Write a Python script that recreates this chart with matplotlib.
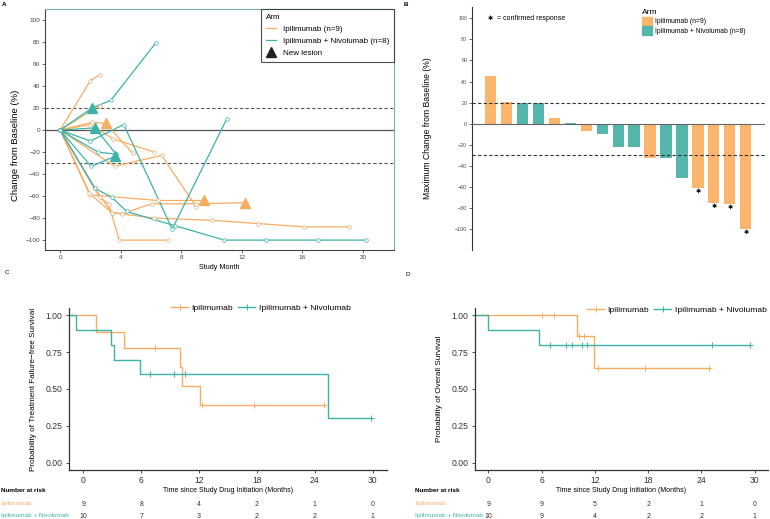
import matplotlib
matplotlib.use("Agg")
import matplotlib.pyplot as plt
from matplotlib.lines import Line2D
from matplotlib.patches import Patch
import matplotlib.transforms as mtrans

plt.rcParams['font.family'] = ['Liberation Sans', 'DejaVu Sans']

W, H = 770, 519
ORANGE = '#F7AE63'
TEAL = '#3DB3A8'
BAR_OR = '#FCB56C'
BAR_TE = '#55B7AC'

# ---------------- Panel A data (spider plot) ----------------
ipi_months = [
    [0, 2.0, 2.6],
    [0, 2.6],
    [0, 2.1, 3.0, 4.8],
    [0, 2.0, 3.5, 6.2],
    [0, 3.6, 6.7, 9.0],
    [0, 2.6, 3.2, 3.9, 7.1],
    [0, 2.0, 6.45, 9.5],
    [0, 2.3, 3.4, 4.1, 6.05, 9.0, 12.2],
    [0, 1.9, 3.4, 6.2, 10.0, 13.1, 16.1, 19.1],
]
ipi_values = [
    [0, 45, 50],
    [0, 22],
    [0, 7, 6, -21],
    [0, 5, -8, -20],
    [0, -33, -23, -70],
    [0, -61, -67, -100, -100],
    [0, -59, -64, -64],
    [0, -53, -75, -76, -67, -67, -66],
    [0, -57, -75, -80, -82, -85, -88, -88],
]
ipi_newlesion = [None, None, 2, None, None, None, 3, 6, None]

combo_months = [
    [0, 2.1, 3.35, 6.3],
    [0, 2.3, 3.7],
    [0, 2.0, 4.2, 7.4, 11.0],
    [0, 2.05, 3.6],
    [0, 2.5, 3.7],
    [0, 2.3, 3.4, 4.4, 7.6, 10.85, 13.6, 17.0, 20.2],
]
combo_values = [
    [0, 20, 27, 79],
    [0, 2, -22],
    [0, -10, 5, -90, 10],
    [0, -33, -24],
    [0, -20, -22],
    [0, -53, -61, -74, -87, -100, -100, -100, -100],
]
combo_newlesion = [1, 1, None, 2, None, None]

# ---------------- Panel B data (waterfall) ----------------
wf_values = [45, 21, 20, 20, 5, 1, -7, -10, -22, -22, -33, -33, -52, -61, -75, -76, -100]
wf_arm = ['I', 'I', 'C', 'C', 'I', 'C', 'I', 'C', 'C', 'C', 'I', 'C', 'C', 'I', 'I', 'I', 'I']
wf_confirmed = [False] * 13 + [True, True, True, True]

# ---------------- Panel C data (TFFS) ----------------
c_ipi_t = [-1.5, 1.3, 4.2, 10.0, 10.2, 12.1, 25.0]
c_ipi_s = [1.0, 0.889, 0.778, 0.648, 0.519, 0.389, 0.389]
c_ipi_cens_t = [7.4, 12.3, 17.7, 25.0]
c_combo_t = [-1.5, -0.75, 2.87, 3.18, 5.84, 25.4, 29.8]
c_combo_s = [1.0, 0.9, 0.8, 0.7, 0.6, 0.3, 0.3]
c_combo_cens_t = [6.9, 9.4, 10.5, 29.8]

# ---------------- Panel D data (OS) ----------------
d_ipi_t = [-1.5, 9.94, 11.9, 24.9]
d_ipi_s = [1.0, 0.857, 0.643, 0.643]
d_ipi_cens_t = [6.0, 7.4, 10.2, 10.8, 12.3, 17.7, 24.9]
d_combo_t = [-1.5, 0.0, 5.7, 29.5]
d_combo_s = [1.0, 0.9, 0.8, 0.8]
d_combo_cens_t = [6.9, 8.8, 9.4, 10.6, 11.1, 25.2, 29.5]

risk_times = [0, 6, 12, 18, 24, 30]
c_risk_ipi = [9, 8, 4, 2, 1, 0]
c_risk_combo = [10, 7, 3, 2, 2, 1]
d_risk_ipi = [9, 9, 5, 2, 1, 0]
d_risk_combo = [10, 9, 4, 2, 2, 1]

fig = plt.figure(figsize=(W / 100, H / 100), dpi=100)


def px_axes(x0, y0, x1, y1):
    return fig.add_axes([x0 / W, 1 - y1 / H, (x1 - x0) / W, (y1 - y0) / H])


def fx(x):
    return x / W


def fy(y):
    return 1 - y / H


# ======================= Panel A =======================
axA = px_axes(45, 9, 394, 250)
axA.set_xlim(-1.0, 22.05)
axA.set_ylim(-109, 110)
axA.axhline(0, color='#555555', lw=0.9, zorder=1)
for yv in (20, -30):
    axA.axhline(yv, color='#555555', lw=0.8, ls=(0, (3, 2)), zorder=1)

for m, v, nl in zip(ipi_months, ipi_values, ipi_newlesion):
    axA.plot(m, v, color=ORANGE, lw=0.9, zorder=2)
    mm = [a for i, a in enumerate(m) if i != nl]
    vv = [b for i, b in enumerate(v) if i != nl]
    axA.plot(mm, vv, ls='none', marker='o', ms=2.6, mfc='white', mec='#D9B47F', mew=0.5, zorder=3)
    if nl is not None:
        axA.plot(m[nl], v[nl], ls='none', marker='^', ms=7, color=ORANGE, zorder=4)
for m, v, nl in zip(combo_months, combo_values, combo_newlesion):
    axA.plot(m, v, color=TEAL, lw=0.9, zorder=2)
    mm = [a for i, a in enumerate(m) if i != nl]
    vv = [b for i, b in enumerate(v) if i != nl]
    axA.plot(mm, vv, ls='none', marker='o', ms=2.6, mfc='white', mec=TEAL, mew=0.5, zorder=3)
    if nl is not None:
        axA.plot(m[nl], v[nl], ls='none', marker='^', ms=7, color=TEAL, zorder=4)

axA.set_xticks([0, 4, 8, 12, 16, 20])
axA.set_yticks(list(range(-100, 101, 20)))
axA.tick_params(labelsize=4.6, length=2, width=0.5, colors='#333333', labelcolor='#444444', pad=1.5)
for s in ('left', 'bottom'):
    axA.spines[s].set_color('#444444')
    axA.spines[s].set_linewidth(0.8)
for s in ('top', 'right'):
    axA.spines[s].set_color('#79AEB2')
    axA.spines[s].set_linewidth(0.8)
axA.set_xlabel('Study Month', fontsize=5.2, labelpad=3)
axA.set_ylabel('Change from Baseline (%)', fontsize=6.8)
axA.yaxis.set_label_coords((20 - 45) / 349, (250 - 145) / 241)

legA_handles = [
    Line2D([], [], color=ORANGE, lw=0.9),
    Line2D([], [], color=TEAL, lw=0.9),
    Line2D([], [], ls='none', marker='^', ms=7, color='#222222'),
]
legA = axA.legend(legA_handles, ['Ipilimumab (n=9)', 'Ipilimumab + Nivolumab (n=8)', 'New lesion'],
                  title='Arm', loc='upper right', bbox_to_anchor=(1.0, 1.0), borderaxespad=0,
                  fontsize=5.8, title_fontsize=5.8, frameon=True, fancybox=False,
                  edgecolor='#222222', handlelength=1.3, handletextpad=0.8, labelspacing=0.55,
                  borderpad=0.6)
legA.get_frame().set_linewidth(0.8)
legA._legend_box.align = 'left'

fig.text(fx(2), fy(4), 'A', fontsize=4.5, fontweight='bold', va='center', ha='left')

# ======================= Panel B =======================
axB = px_axes(472, 7, 765, 250)
xs = list(range(len(wf_values)))
cols = [BAR_OR if a == 'I' else BAR_TE for a in wf_arm]
axB.bar(xs, wf_values, width=0.7, color=cols, zorder=2)
axB.set_xlim(-1.15, 17.2)
axB.set_ylim(-120, 110.8)
axB.axhline(0, color='#666666', lw=0.8, zorder=3)
for yv in (20, -30):
    axB.axhline(yv, color='#333333', lw=0.8, ls=(0, (3, 2)), zorder=3)
for x, v, c in zip(xs, wf_values, wf_confirmed):
    if c:
        axB.text(x, v - 3.5, '✱', fontsize=4.5, ha='center', va='center', family=['DejaVu Sans'])
axB.set_xticks([])
axB.set_yticks(list(range(-100, 101, 20)))
axB.tick_params(labelsize=3.8, length=2, width=0.5, colors='#333333', labelcolor='#444444', pad=1.5)
for s in ('top', 'right', 'bottom'):
    axB.spines[s].set_visible(False)
axB.spines['left'].set_color('#333333')
axB.spines['left'].set_linewidth(0.8)
axB.set_ylabel('Maximum Change from Baseline (%)', fontsize=6.2)
axB.yaxis.set_label_coords((432 - 472) / 293, (250 - 128) / 243)
axB.text(0.0, 100, '✱', fontsize=4.5, ha='center', va='center', family=['DejaVu Sans'])
axB.text(0.4, 100, '= confirmed response', fontsize=5, ha='left', va='center')

legB = axB.legend([Patch(color=BAR_OR), Patch(color=BAR_TE)],
                  ['Ipilimumab (n=9)', 'Ipilimumab + Nivolumab (n=8)'],
                  title='Arm', loc='upper left', bbox_to_anchor=((640 - 472) / 293, 1.0),
                  borderaxespad=0.1, frameon=False, fontsize=4.9, title_fontsize=6,
                  handlelength=1.5, handleheight=1.6, handletextpad=0.4, labelspacing=0.1,
                  borderpad=0.2)
legB._legend_box.align = 'left'

fig.text(fx(404), fy(4), 'B', fontsize=4.5, fontweight='bold', va='center', ha='left')


# ======================= KM helper =======================
def km_panel(ax, ipi_t, ipi_s, ipi_c, combo_t, combo_s, combo_c, ylabel, leg_x, leg_y):
    for t, s, cens, col in ((ipi_t, ipi_s, ipi_c, ORANGE), (combo_t, combo_s, combo_c, TEAL)):
        ax.step(t, s, where='post', color=col, lw=1.0, zorder=2)
        cs = []
        for ct in cens:
            val = s[0]
            for tt, ss in zip(t, s):
                if tt <= ct:
                    val = ss
            cs.append(val)
        ax.plot(cens, cs, ls='none', marker='+', ms=4, mew=0.7, color=col, zorder=3)
    ax.set_xlim(-1.5, 31.5)
    ax.set_ylim(-0.05, 1.05)
    ax.set_xticks([0, 6, 12, 18, 24, 30])
    ax.set_yticks([0, 0.25, 0.5, 0.75, 1.0])
    ax.set_yticklabels(['0.00', '0.25', '0.50', '0.75', '1.00'])
    ax.tick_params(labelsize=6.2, length=2.5, width=0.6, colors='#333333', labelcolor='#333333', pad=2)
    for s in ('top', 'right'):
        ax.spines[s].set_visible(False)
    for s in ('left', 'bottom'):
        ax.spines[s].set_color('#333333')
        ax.spines[s].set_linewidth(0.9)
    ax.set_xlabel('Time since Study Drug Initiation (Months)', fontsize=5, labelpad=1)
    ax.set_ylabel(ylabel, fontsize=5.9, labelpad=6)
    h = [Line2D([], [], color=ORANGE, lw=1.0, marker='+', ms=4, mew=0.7),
         Line2D([], [], color=TEAL, lw=1.0, marker='+', ms=4, mew=0.7)]
    leg = fig.legend(h, ['Ipilimumab', 'Ipilimumab + Nivolumab'], loc='center',
                     bbox_to_anchor=(fx(leg_x), fy(leg_y)), ncol=2, frameon=False, fontsize=6.1,
                     handlelength=2.0, handletextpad=0.4, columnspacing=0.6, borderpad=0)
    return leg


def risk_table(ax, lx, ipi_r, combo_r):
    tr = mtrans.blended_transform_factory(ax.transData, fig.transFigure)
    fig.text(fx(lx), fy(491), 'Number at risk', fontsize=4.6, fontweight='bold', ha='left', va='center',
             fontstretch='condensed')
    fig.text(fx(lx), fy(504), 'Ipilimumab', fontsize=4.6, color=ORANGE, ha='left', va='center')
    fig.text(fx(lx), fy(516), 'Ipilimumab + Nivolumab', fontsize=4.6, color=TEAL, ha='left', va='center')
    for t, a, b in zip(risk_times, ipi_r, combo_r):
        ax.text(t, fy(505), str(a), transform=tr, fontsize=5, ha='center', va='center', color='#333333')
        ax.text(t, fy(516), str(b), transform=tr, fontsize=5, ha='center', va='center', color='#333333')


# ======================= Panel C =======================
axC = px_axes(69, 308, 387, 470)
km_panel(axC, c_ipi_t, c_ipi_s, c_ipi_cens_t, c_combo_t, c_combo_s, c_combo_cens_t,
         'Probability of Treatment Failure\u2212free Survival', 261, 308)
risk_table(axC, 1, c_risk_ipi, c_risk_combo)
fig.text(fx(5), fy(273), 'C', fontsize=4.5, va='center', ha='left')

# ======================= Panel D =======================
axD = px_axes(475, 308, 768, 470)
km_panel(axD, d_ipi_t, d_ipi_s, d_ipi_cens_t, d_combo_t, d_combo_s, d_combo_cens_t,
         'Probability of Overall Survival', 677, 310)
risk_table(axD, 415, d_risk_ipi, d_risk_combo)
fig.text(fx(405), fy(275), 'D', fontsize=4.5, va='center', ha='left')

fig.savefig('out.png', dpi=100)
